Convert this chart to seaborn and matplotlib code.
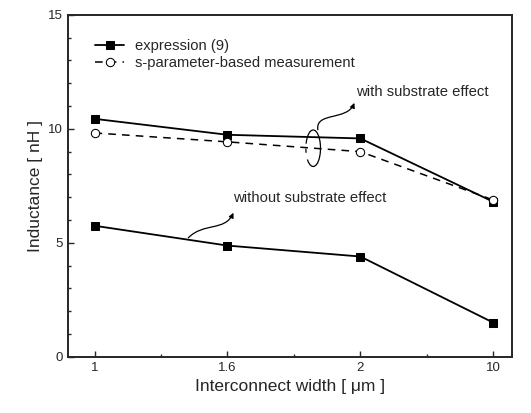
import pandas as pd
import seaborn as sns
import matplotlib.pyplot as plt
from matplotlib.patches import Arc, FancyArrowPatch
from matplotlib.path import Path
from matplotlib.ticker import MultipleLocator, FixedLocator

# Data
widths = ["1", "1.6", "2", "10"]
expr_with = [10.44, 9.74, 9.58, 6.8]
meas_with = [9.82, 9.43, 9.0, 6.88]
expr_without = [5.75, 4.88, 4.4, 1.5]

pos = list(range(len(widths)))
df_expr_with = pd.DataFrame({"x": pos, "L": expr_with})
df_meas_with = pd.DataFrame({"x": pos, "L": meas_with})
df_expr_without = pd.DataFrame({"x": pos, "L": expr_without})

sns.set_style("ticks")
plt.rcParams["font.family"] = ["Liberation Sans", "DejaVu Sans"]

fig = plt.figure(figsize=(5.31, 4.13), dpi=100)
ax = fig.add_axes([0.128, 0.136, 0.836, 0.828])

sns.lineplot(data=df_expr_with, x="x", y="L", ax=ax, color="black", lw=1.3,
             marker="s", markersize=5.5, markeredgecolor="black",
             label="expression (9)")
sns.lineplot(data=df_meas_with, x="x", y="L", ax=ax, color="black", lw=1.1,
             linestyle=(0, (5, 4)), marker="o", markersize=6,
             markerfacecolor="white", markeredgecolor="black",
             label="s-parameter-based measurement")
sns.lineplot(data=df_expr_without, x="x", y="L", ax=ax, color="black", lw=1.3,
             marker="s", markersize=5.5, markeredgecolor="black")

ax.set_xlim(-0.2, 3.14)
ax.set_ylim(0, 15)
ax.xaxis.set_major_locator(FixedLocator(pos))
ax.set_xticklabels(widths)
ax.xaxis.set_minor_locator(FixedLocator([0.5, 1.5, 2.5]))
ax.yaxis.set_major_locator(MultipleLocator(5))
ax.yaxis.set_minor_locator(MultipleLocator(1))
ax.tick_params(which="both", direction="in", top=False, right=False,
               labelsize=9.5, width=1)
ax.tick_params(which="major", length=4)
ax.tick_params(which="minor", length=2)
for s in ax.spines.values():
    s.set_linewidth(1.4)

ax.set_xlabel("Interconnect width [ \u03bcm ]", fontsize=12.5)
ax.set_ylabel("Inductance [ nH ]", fontsize=12.5)

ax.legend(loc="upper left", bbox_to_anchor=(0.061, 0.93), frameon=False,
          fontsize=10.6, handlelength=2.0, handletextpad=0.7,
          labelspacing=0.25, borderpad=0, borderaxespad=0)

# annotations
ax.text(1.97, 11.62, "with substrate effect", fontsize=10.7, ha="left",
        va="center")
with_path = Path([(1.68, 9.96), (1.66, 10.75), (1.9, 10.35), (1.955, 11.14)],
                 [Path.MOVETO, Path.CURVE4, Path.CURVE4, Path.CURVE4])
ax.add_patch(FancyArrowPatch(path=with_path, arrowstyle="-|>",
                             mutation_scale=7, color="black", lw=0.9))
ax.add_patch(Arc((1.645, 9.15), 0.11, 1.6, angle=0, theta1=-95, theta2=105,
                 color="black", lw=0.9))
ax.add_patch(Arc((1.645, 9.15), 0.11, 1.6, angle=0, theta1=200, theta2=255,
                 color="black", lw=0.9))

ax.text(1.04, 6.95, "without substrate effect", fontsize=10.7, ha="left",
        va="center")
without_path = Path([(0.705, 5.22), (0.82, 5.9), (0.98, 5.5), (1.045, 6.32)],
                    [Path.MOVETO, Path.CURVE4, Path.CURVE4, Path.CURVE4])
ax.add_patch(FancyArrowPatch(path=without_path, arrowstyle="-|>",
                             mutation_scale=7, color="black", lw=0.9))

fig.savefig("out.png", dpi=100)
